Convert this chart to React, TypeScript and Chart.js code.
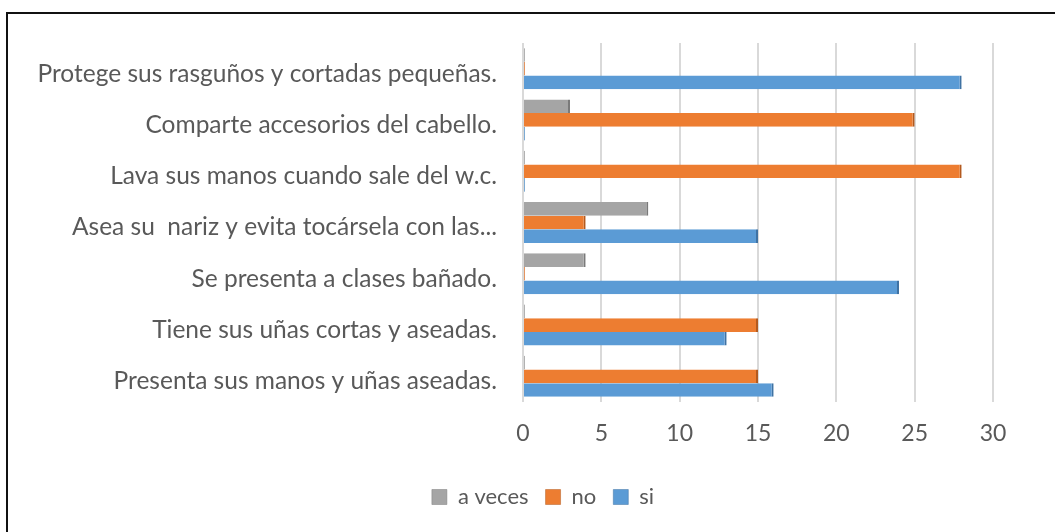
import React, { useEffect, useRef } from "react";
import { Chart, registerables } from "chart.js";

Chart.register(...registerables);

const categories = [
  "Protege sus rasguños y cortadas pequeñas.",
  "Comparte accesorios del cabello.",
  "Lava sus manos cuando sale del w.c.",
  "Asea su  nariz y evita tocársela con las...",
  "Se presenta a clases bañado.",
  "Tiene sus uñas cortas y aseadas.",
  "Presenta sus manos y uñas aseadas.",
];
const seriesNames = ["a veces", "no", "si"];
const aVeces = [0, 3, 0, 8, 4, 0, 0];
const no = [0, 25, 28, 4, 0, 15, 15];
const si = [28, 0, 0, 15, 24, 13, 16];
const xTicks = [0, 5, 10, 15, 20, 25, 30];

const FONT = "Lato";
const TEXT = "#595959";
const CANVAS_W = 1086;

export default function App() {
  const ref = useRef<HTMLCanvasElement>(null);
  useEffect(() => {
    const ctx = ref.current!;
    const mk = (label: string, data: number[], bg: string, edge: string) => ({
      label,
      data,
      backgroundColor: bg,
      borderColor: edge,
      borderWidth: { left: 0, top: 0, bottom: 0, right: 2 },
      borderSkipped: false as const,
      minBarLength: 2,
      categoryPercentage: 0.8,
      barPercentage: 1.0,
    });
    const chart = new Chart(ctx, {
      type: "bar",
      data: {
        labels: categories,
        datasets: [
          mk(seriesNames[0], aVeces, "#A5A5A5", "#7a7a7a"),
          mk(seriesNames[1], no, "#ED7D31", "#b35a1f"),
          mk(seriesNames[2], si, "#5B9BD5", "#3f72a3"),
        ],
      },
      options: {
        indexAxis: "y",
        responsive: false,
        animation: false,
        layout: { padding: { top: 43, right: 0, left: 0, bottom: 14 } },
        plugins: {
          tooltip: { enabled: false },
          legend: {
            position: "bottom",
            labels: {
              boxWidth: 15,
              boxHeight: 15,
              padding: 17,
              color: TEXT,
              font: { family: FONT, size: 22 },
            },
          },
        },
        scales: {
          x: {
            min: 0,
            max: 30,
            afterBuildTicks: (s: any) => {
              s.ticks = xTicks.map((v) => ({ value: v }));
            },
            afterFit: (s: any) => {
              s.height = 67;
            },
            grid: { color: "#d9d9d9", lineWidth: 2, drawTicks: false },
            border: { display: false },
            ticks: {
              color: TEXT,
              padding: 18,
              font: { family: FONT, size: 23 },
            },
          },
          y: {
            afterFit: (s: any) => {
              s.width = 523;
            },
            grid: { display: false, drawTicks: false },
            border: { display: false },
            ticks: {
              color: TEXT,
              padding: 26,
              labelOffset: 5,
              autoSkip: false,
              font: { family: FONT, size: 24.5 },
            },
          },
          yRight: {
            position: "right",
            axis: "y",
            type: "category",
            display: true,
            afterFit: (s: any) => {
              s.width = CANVAS_W - 993;
            },
            grid: { display: false, drawTicks: false },
            border: { display: false },
            ticks: { display: false },
          },
        },
      },
    });
    return () => chart.destroy();
  }, []);
  return (
    <div
      style={{
        position: "fixed",
        left: 0,
        top: 0,
        width: 1055,
        height: 532,
        background: "#fff",
        overflow: "hidden",
      }}
    >
      <div
        style={{
          position: "absolute",
          left: 6,
          top: 12,
          width: 1200,
          height: 700,
          borderLeft: "2px solid #111",
          borderTop: "2px solid #111",
        }}
      />
      <canvas
        ref={ref}
        width={CANVAS_W}
        height={532}
        style={{ position: "absolute", left: 0, top: 0 }}
      />
    </div>
  );
}
